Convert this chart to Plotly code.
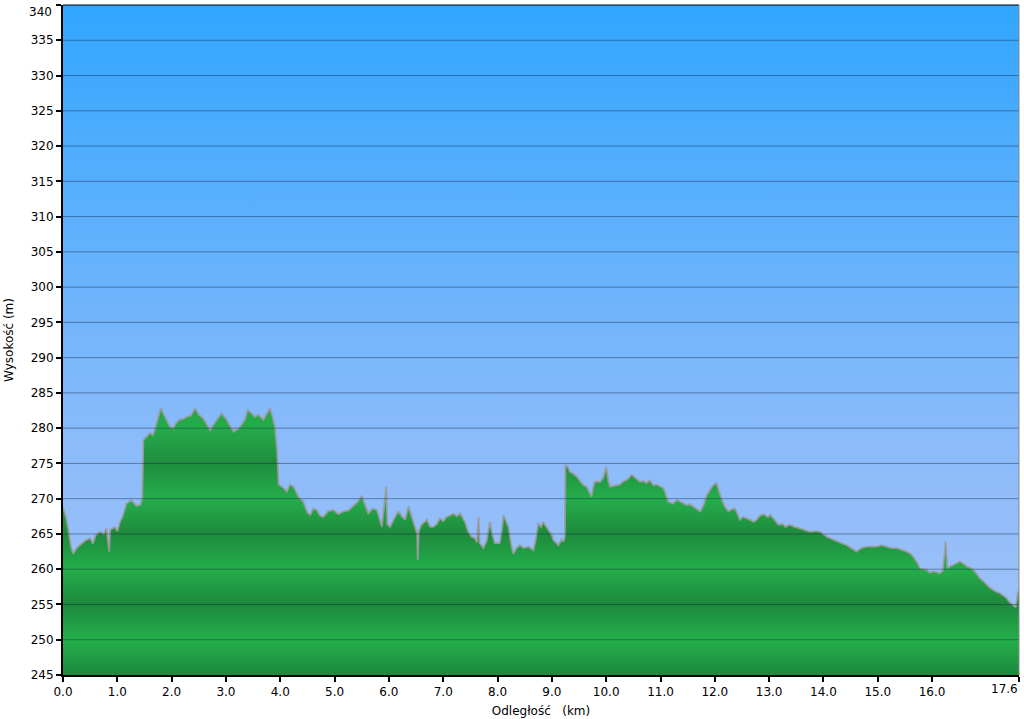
import plotly.graph_objects as go

# ---- data -------------------------------------------------------------
DIST_KM = [
    0.00, 0.03, 0.06, 0.10, 0.15, 0.19, 0.25, 0.31, 0.40, 0.50, 0.55, 0.60, 0.68, 0.75, 0.80, 0.85,
    0.87, 0.95, 1.00, 1.05, 1.10, 1.17, 1.26, 1.35, 1.42, 1.46, 1.48, 1.54, 1.60, 1.66, 1.72, 1.80,
    1.85, 1.91, 1.97, 2.03, 2.09, 2.15, 2.22, 2.28, 2.36, 2.43, 2.50, 2.58, 2.65, 2.71, 2.77, 2.83,
    2.92, 3.01, 3.08, 3.14, 3.20, 3.26, 3.35, 3.40, 3.47, 3.53, 3.60, 3.69, 3.75, 3.81, 3.86, 3.90,
    3.94, 3.97, 4.06, 4.12, 4.18, 4.25, 4.33, 4.42, 4.50, 4.55, 4.61, 4.67, 4.73, 4.79, 4.88, 4.98,
    5.07, 5.16, 5.25, 5.34, 5.42, 5.50, 5.56, 5.62, 5.70, 5.78, 5.87, 5.95, 5.97, 6.02, 6.10, 6.17,
    6.24, 6.30, 6.36, 6.45, 6.52, 6.53, 6.55, 6.60, 6.70, 6.76, 6.82, 6.88, 6.94, 7.00, 7.06, 7.12,
    7.19, 7.25, 7.31, 7.40, 7.46, 7.52, 7.58, 7.62, 7.65, 7.67, 7.74, 7.80, 7.86, 7.90, 7.95, 8.04,
    8.08, 8.11, 8.15, 8.20, 8.25, 8.29, 8.35, 8.41, 8.48, 8.57, 8.66, 8.70, 8.75, 8.80, 8.84, 8.93,
    9.00, 9.03, 9.12, 9.18, 9.21, 9.24, 9.25, 9.30, 9.33, 9.40, 9.46, 9.55, 9.60, 9.64, 9.70, 9.73,
    9.76, 9.79, 9.89, 9.95, 10.00, 10.04, 10.07, 10.13, 10.19, 10.25, 10.31, 10.40, 10.47, 10.55,
    10.62, 10.68, 10.74, 10.80, 10.87, 10.93, 10.99, 11.05, 11.08, 11.14, 11.23, 11.30, 11.36,
    11.42, 11.48, 11.54, 11.60, 11.66, 11.73, 11.79, 11.85, 11.91, 11.97, 12.03, 12.08, 12.13,
    12.19, 12.25, 12.31, 12.37, 12.42, 12.46, 12.52, 12.59, 12.65, 12.71, 12.77, 12.83, 12.90,
    12.98, 13.02, 13.10, 13.17, 13.25, 13.30, 13.38, 13.47, 13.57, 13.66, 13.75, 13.85, 13.94,
    14.06, 14.15, 14.24, 14.33, 14.43, 14.52, 14.61, 14.70, 14.80, 14.89, 14.98, 15.07, 15.16,
    15.25, 15.35, 15.44, 15.53, 15.60, 15.65, 15.72, 15.78, 15.84, 15.90, 15.96, 16.02, 16.08,
    16.14, 16.20, 16.25, 16.28, 16.33, 16.39, 16.45, 16.51, 16.57, 16.64, 16.70, 16.76, 16.82,
    16.88, 16.94, 17.00, 17.06, 17.12, 17.18, 17.25, 17.31, 17.37, 17.43, 17.49, 17.54, 17.58, 17.60,
]
ELEV_M = [
    268.8, 268.0, 267.2, 265.5, 263.0, 262.2, 263.0, 263.4, 264.0, 264.4, 263.6, 264.8, 265.3, 265.0, 265.8, 262.5,
    265.6, 266.0, 265.4, 266.7, 267.5, 269.3, 269.8, 269.0, 269.1, 270.0, 278.3, 278.8, 279.3, 279.0, 280.7, 282.8,
    282.0, 281.2, 280.2, 280.0, 280.8, 281.2, 281.3, 281.6, 281.8, 282.8, 281.9, 281.4, 280.5, 279.7, 280.5, 281.2,
    282.1, 281.2, 280.3, 279.5, 279.8, 280.2, 281.2, 282.6, 282.1, 281.6, 281.9, 281.2, 282.0, 282.8, 281.5, 280.2,
    277.0, 272.0, 271.5, 271.0, 272.0, 271.6, 270.3, 269.6, 268.0, 267.7, 268.6, 268.4, 267.6, 267.4, 268.2, 268.4,
    267.8, 268.2, 268.3, 268.9, 269.5, 270.4, 269.2, 267.9, 268.6, 268.4, 266.0, 271.7, 266.4, 266.0, 267.2, 268.2,
    267.5, 267.0, 268.9, 266.7, 265.0, 261.3, 265.4, 266.3, 267.0, 266.0, 266.0, 266.4, 267.2, 266.8, 267.4, 267.6,
    267.9, 267.5, 267.9, 266.7, 265.3, 264.6, 264.4, 263.8, 267.4, 263.7, 263.0, 264.0, 266.7, 265.0, 263.7, 263.7,
    265.5, 267.7, 267.0, 266.0, 263.5, 262.2, 263.0, 263.4, 263.0, 263.2, 262.7, 264.0, 266.5, 266.0, 266.7, 265.6,
    264.8, 264.1, 263.4, 264.2, 263.9, 264.5, 274.8, 274.4, 273.8, 273.5, 273.1, 272.2, 271.8, 271.7, 270.8, 270.3,
    271.5, 272.4, 272.4, 273.0, 274.5, 272.5, 271.7, 271.8, 271.9, 272.0, 272.4, 272.8, 273.4, 272.8,
    272.4, 272.5, 272.2, 272.6, 271.9, 272.0, 271.7, 271.5, 271.0, 269.6, 269.3, 269.8, 269.6,
    269.4, 269.1, 269.2, 268.9, 268.5, 268.2, 269.0, 270.5, 271.2, 271.9, 272.2, 271.0, 269.8,
    268.8, 268.2, 268.5, 268.6, 267.8, 267.0, 267.4, 267.2, 267.0, 266.7, 267.0, 267.6, 267.8,
    267.4, 267.7, 267.0, 266.3, 266.4, 266.0, 266.3, 266.0, 265.8, 265.5, 265.3, 265.4, 265.3,
    264.6, 264.3, 263.9, 263.7, 263.4, 263.0, 262.5, 263.0, 263.2, 263.2, 263.2, 263.4, 263.2,
    263.0, 263.0, 262.8, 262.5, 262.2, 261.8, 261.0, 260.1, 260.0, 259.9, 259.5, 259.7, 259.6,
    259.4, 259.8, 263.9, 260.1, 260.4, 260.6, 260.9, 261.1, 260.8, 260.4, 260.2, 259.9, 259.3,
    258.7, 258.3, 257.8, 257.4, 257.1, 256.8, 256.6, 256.2, 255.9, 255.3, 254.9, 254.6, 256.6, 257.0,
]

X_RANGE = [0.0, 17.6]
Y_RANGE = [245, 340]
X_TICKS = [0, 1, 2, 3, 4, 5, 6, 7, 8, 9, 10, 11, 12, 13, 14, 15, 16, 17.6]
X_TICKTEXT = ["0.0", "1.0", "2.0", "3.0", "4.0", "5.0", "6.0", "7.0", "8.0", "9.0",
              "10.0", "11.0", "12.0", "13.0", "14.0", "15.0", "16.0", "17.6"]
Y_TICKS = list(range(245, 341, 5))
Y_TICKTEXT = [str(v) for v in Y_TICKS]

FONT = "DejaVu Sans, Verdana, sans-serif"

fig = go.Figure()

# sky background (gradient)
fig.add_trace(go.Scatter(
    x=[X_RANGE[0], X_RANGE[1], X_RANGE[1], X_RANGE[0]],
    y=[Y_RANGE[0], Y_RANGE[0], Y_RANGE[1], Y_RANGE[1]],
    fill="toself", mode="none", hoverinfo="skip", showlegend=False,
    fillgradient=dict(type="vertical", start=Y_RANGE[0], stop=Y_RANGE[1],
                      colorscale=[[0, "#a2c3f7"], [0.35, "#8bbbfa"], [1, "#31a6ff"]]),
))

# elevation profile
green_scale = [
    [0.000, "#1d883c"], [0.125, "#24b04b"], [0.250, "#1d883c"], [0.375, "#24ae4a"],
    [0.500, "#1e8b3d"], [0.625, "#25ad4b"], [0.750, "#1f8d3e"], [0.875, "#25ab4a"],
    [1.000, "#22a146"],
]
fig.add_trace(go.Scatter(
    x=DIST_KM, y=ELEV_M, mode="lines", fill="tozeroy",
    line=dict(color="rgba(155,155,155,0.9)", width=1.8),
    fillgradient=dict(type="vertical", start=245, stop=285, colorscale=green_scale),
    showlegend=False,
))

# horizontal grid lines drawn above the fill
for yv in Y_TICKS[1:-1]:
    fig.add_shape(type="line", xref="paper", x0=0, x1=1, yref="y", y0=yv, y1=yv,
                  line=dict(color="rgba(20,40,70,0.45)", width=1), layer="above")
# top and right frame lines
fig.add_shape(type="line", xref="paper", yref="paper", x0=0, x1=1, y0=1, y1=1,
              line=dict(color="#000000", width=1), layer="above")
fig.add_shape(type="line", xref="paper", yref="paper", x0=1, x1=1, y0=0, y1=1,
              line=dict(color="#888888", width=1), layer="above")

# edge tick labels placed so they stay inside the page
fig.add_annotation(x=X_TICKS[-1], y=0, xref="x", yref="paper", text=X_TICKTEXT[-1],
                   showarrow=False, xanchor="right", yanchor="top", xshift=1, yshift=-5,
                   font=dict(family=FONT, size=12, color="#000000"))
fig.add_annotation(x=0, y=Y_TICKS[-1], xref="paper", yref="y", text=Y_TICKTEXT[-1],
                   showarrow=False, xanchor="right", yanchor="top", xshift=-9, yshift=2,
                   font=dict(family=FONT, size=12, color="#000000"))

fig.update_layout(
    width=1024, height=719,
    margin=dict(l=63, r=5, t=5, b=44),
    paper_bgcolor="white", plot_bgcolor="white",
    font=dict(family=FONT, size=12, color="#000000"),
    xaxis=dict(
        range=X_RANGE, tickvals=X_TICKS, ticktext=X_TICKTEXT[:-1] + [""],
        showgrid=False, zeroline=False, showline=True, linecolor="#000000", linewidth=2,
        ticks="outside", ticklen=5, tickwidth=2, tickcolor="#000000",
        automargin=False, ticklabeloverflow="allow",
        title=dict(text="Odległość\u00a0\u00a0\u00a0(km)", font=dict(size=12), standoff=8),
        layer="above traces",
    ),
    yaxis=dict(
        range=Y_RANGE, tickvals=Y_TICKS, ticktext=Y_TICKTEXT[:-1] + [""],
        showgrid=False, zeroline=False, showline=True, linecolor="#000000", linewidth=2,
        ticks="outside", ticklen=5, tickwidth=2, tickcolor="#000000",
        automargin=False, ticklabeloverflow="allow",
        title=dict(text="Wysokość (m)", font=dict(size=12), standoff=14),
        layer="above traces",
    ),
)

fig.write_html("out.html",
               config={"displayModeBar": False},
               post_script="document.body.style.margin='0';document.body.style.overflow='hidden';")
